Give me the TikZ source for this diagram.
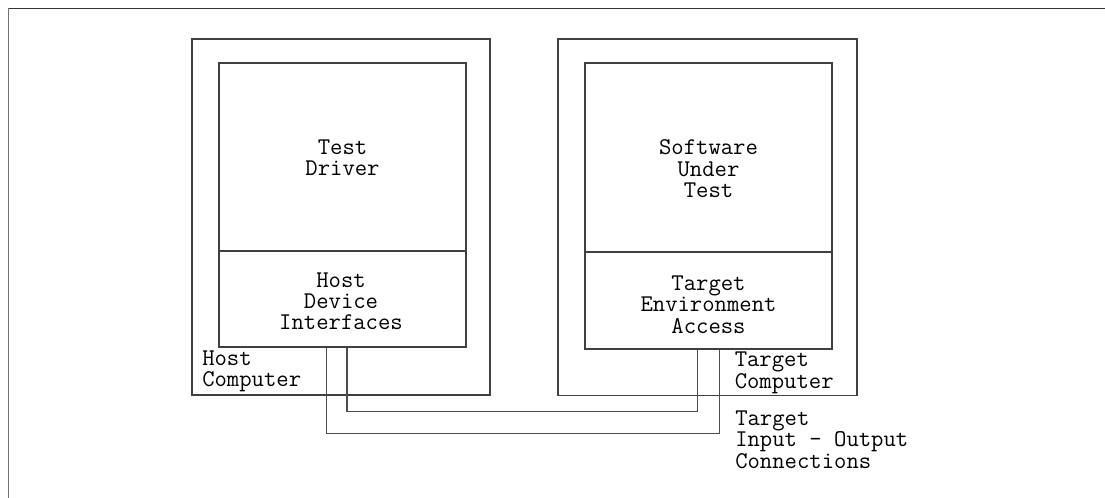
\documentclass[tikz,border=0pt]{standalone}
\usepackage{fontspec}
\usetikzlibrary{fit}
\begin{document}
\begin{tikzpicture}[x=0.75pt,y=-0.75pt,
  box/.style={draw=black!75,line width=0.8pt,inner sep=0pt},
  wire/.style={draw=black!70,line width=0.8pt},
  lbl/.style={inner sep=0pt,font=\ttfamily\fontsize{18pt}{16.1pt}\selectfont},
  ctext/.style={lbl,align=center,anchor=base},
  ltext/.style={lbl,align=left,anchor=base west}]
\useasboundingbox (0,0) rectangle (1105,498);
% page frame
\draw[black!80,line width=1.3pt] (8.5,8.5) -- (1105,8.5);
\draw[black!55,line width=1.3pt] (8.5,8.5) -- (8.5,498);
% host computer
\node[box,fit={(192,39) (490,395)}] (host) {};
\node[box,fit={(219,63) (466,251)}] (drv) {};
\node[box,fit={(219,251) (466,347)}] (hdi) {};
% target computer
\node[box,fit={(558,39) (857,395.5)}] (tgt) {};
\node[box,fit={(585,63) (832,252)}] (sut) {};
\node[box,fit={(585,252) (832,349)}] (tea) {};
% texts (anchored at the baseline of their last line)
\node[ctext] (tdtxt) at (342.5,175.7) {Test\\Driver};
\node[ctext] (suttxt) at (708.5,197.7) {Software\\Under\\Test};
\node[ctext] (hditxt) at (341,330) {Host\\Device\\Interfaces};
\node[ctext] (teatxt) at (708.5,333.3) {Target\\Environment\\Access};
\node[ltext] (hclbl) at (202,386.7) {Host\\Computer};
\node[ltext] (tclbl) at (734.5,388.3) {Target\\Computer};
\node[ltext] (iolbl) at (735,468.3) {Target\\Input - Output\\Connections};
% connections
\coordinate (a1) at (347,411.5);
\coordinate (a2) at (697.3,411.5);
\coordinate (b1) at (326.5,433.5);
\coordinate (b2) at (719.5,433.5);
\draw[wire] (a1 |- hdi.south) -- (a1) -- (a2) -- (a2 |- tea.south);
\draw[wire] (b1 |- hdi.south) -- (b1) -- (b2) -- (b2 |- tea.south);
\end{tikzpicture}
\end{document}
